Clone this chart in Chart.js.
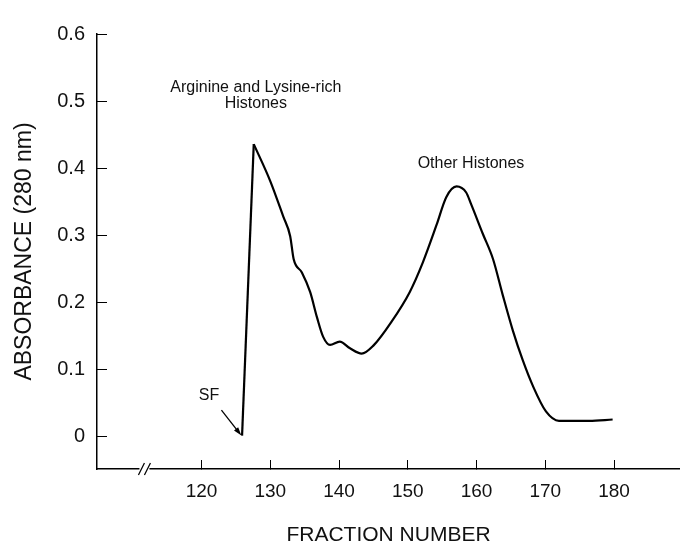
<!DOCTYPE html>
<html>
<head>
<meta charset="utf-8">
<script src="https://cdn.jsdelivr.net/npm/chart.js@4.4.1/dist/chart.umd.min.js"></script>
<style>
  html, body { margin: 0; padding: 0; background: #fff; }
  #wrap { width: 680px; height: 546px; }
</style>
</head>
<body>
<div id="wrap"><canvas id="chart" width="680" height="546"></canvas></div>
<script>
// fraction number vs. absorbance at 280 nm
const fractions = [125.9, 127.6, 130.0, 131.9, 132.9, 133.4, 134.6, 135.8, 136.8, 137.7,
  138.7, 140.1, 141.6, 143.3, 145.0, 147.6, 150.3, 152.2, 154.2, 155.6,
  157.1, 158.5, 159.2, 160.9, 162.4, 163.8, 165.3, 166.7, 168.2, 170.1,
  172.0, 176.4, 179.8];
const absorbance = [0.002, 0.436, 0.381, 0.328, 0.299, 0.265, 0.245, 0.216, 0.178, 0.149,
  0.137, 0.142, 0.132, 0.124, 0.136, 0.171, 0.216, 0.260, 0.316, 0.357,
  0.373, 0.364, 0.347, 0.303, 0.265, 0.212, 0.158, 0.115, 0.076, 0.038,
  0.024, 0.024, 0.026];
const peakIndex = 1; // sharp corner: straight rise, smooth fall

const xTicks = [120, 130, 140, 150, 160, 170, 180];
const yTicks = [0, 0.1, 0.2, 0.3, 0.4, 0.5, 0.6];

// text labels on the plot, in data units
const notes = [
  { text: 'Arginine and Lysine-rich', x: 127.9, y: 0.520 },
  { text: 'Histones', x: 127.9, y: 0.496 },
  { text: 'Other Histones', x: 159.2, y: 0.407 },
  { text: 'SF', x: 121.1, y: 0.061 }
];
const sfArrow = { from: [122.9, 0.040], to: [125.8, 0.002] };
const breakAt = 111.7;

const FONT = '"Liberation Sans", Arial, Helvetica, sans-serif';

// axis break, annotations and the SF arrow
const extras = {
  id: 'extras',
  afterDraw(chart) {
    const { ctx, scales: { x, y } } = chart;
    ctx.save();

    const bx = x.getPixelForValue(breakAt);
    const by = x.top;
    ctx.fillStyle = '#fff';
    ctx.fillRect(bx - 5, by - 3, 10, 6);
    ctx.strokeStyle = '#000';
    ctx.lineWidth = 1.2;
    [-3, 3].forEach(d => {
      ctx.beginPath();
      ctx.moveTo(bx + d - 3, by + 6);
      ctx.lineTo(bx + d + 3, by - 6);
      ctx.stroke();
    });

    ctx.fillStyle = '#111';
    ctx.font = '16px ' + FONT;
    ctx.textAlign = 'center';
    ctx.textBaseline = 'middle';
    notes.forEach(n => ctx.fillText(n.text, x.getPixelForValue(n.x), y.getPixelForValue(n.y)));

    const x1 = x.getPixelForValue(sfArrow.from[0]), y1 = y.getPixelForValue(sfArrow.from[1]);
    const x2 = x.getPixelForValue(sfArrow.to[0]), y2 = y.getPixelForValue(sfArrow.to[1]);
    const ang = Math.atan2(y2 - y1, x2 - x1);
    ctx.lineWidth = 1.3;
    ctx.beginPath();
    ctx.moveTo(x1, y1);
    ctx.lineTo(x2 - 6 * Math.cos(ang), y2 - 6 * Math.sin(ang));
    ctx.stroke();
    ctx.beginPath();
    ctx.moveTo(x2, y2);
    ctx.lineTo(x2 - 9 * Math.cos(ang - 0.3), y2 - 9 * Math.sin(ang - 0.3));
    ctx.lineTo(x2 - 9 * Math.cos(ang + 0.3), y2 - 9 * Math.sin(ang + 0.3));
    ctx.closePath();
    ctx.fillStyle = '#000';
    ctx.fill();

    ctx.restore();
  }
};

const points = fractions.map((f, i) => ({ x: f, y: absorbance[i] }));
const lineStyle = { borderColor: '#000', borderWidth: 2.2, pointRadius: 0, fill: false };

const ctx = document.getElementById('chart').getContext('2d');
new Chart(ctx, {
  type: 'line',
  data: {
    datasets: [
      Object.assign({ data: points.slice(0, peakIndex + 1), tension: 0 }, lineStyle),
      Object.assign({ data: points.slice(peakIndex), cubicInterpolationMode: 'monotone' }, lineStyle)
    ]
  },
  options: {
    responsive: false,
    animation: false,
    layout: { padding: { top: 21, right: 0, bottom: 0, left: 0 } },
    plugins: {
      legend: { display: false },
      tooltip: { enabled: false }
    },
    scales: {
      x: {
        type: 'linear',
        min: 104.8,
        max: 189.6,
        afterBuildTicks: s => { s.ticks = xTicks.map(v => ({ value: v })); },
        afterFit: s => { s.height = 77; },
        grid: { drawOnChartArea: false, drawTicks: true, tickLength: -9, color: '#000', lineWidth: 1 },
        border: { display: true, color: '#000', width: 1.5 },
        ticks: { padding: 20, color: '#111', font: { family: FONT, size: 19 }, maxRotation: 0, autoSkip: false },
        title: {
          display: true, text: 'FRACTION NUMBER', color: '#111',
          font: { family: FONT, size: 21, lineHeight: 1 }, padding: { top: 0, bottom: 0 }
        }
      },
      y: {
        type: 'linear',
        min: -0.0477,
        max: 0.6,
        afterBuildTicks: s => { s.ticks = yTicks.map(v => ({ value: v })); },
        afterFit: s => { s.width = 97; },
        grid: { drawOnChartArea: false, drawTicks: true, tickLength: -10, color: '#000', lineWidth: 1 },
        border: { display: true, color: '#000', width: 1.5 },
        ticks: {
          padding: 22, color: '#111', font: { family: FONT, size: 20 },
          callback: v => v === 0 ? '0' : v.toFixed(1)
        },
        title: {
          display: true, text: 'ABSORBANCE (280 nm)', color: '#111',
          font: { family: FONT, size: 23, lineHeight: 1 }, padding: { top: 13, bottom: 0 }
        }
      }
    }
  },
  plugins: [extras]
});
</script>
</body>
</html>
